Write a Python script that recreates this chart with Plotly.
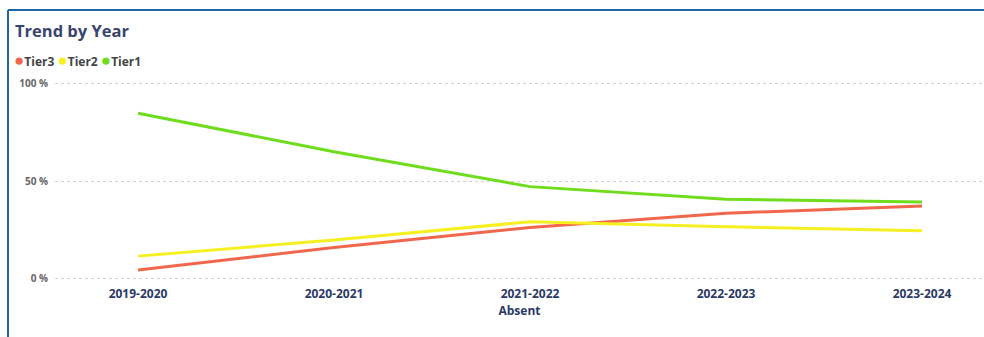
import plotly.graph_objects as go

# School years on the category axis
years = ["2019-2020", "2020-2021", "2021-2022", "2022-2023", "2023-2024"]

# Share of absent students per tier (percent)
tier3 = [4.1, 15.8, 26.1, 33.4, 37.1]
tier2 = [11.3, 19.6, 29.0, 26.4, 24.4]
tier1 = [84.9, 65.1, 47.1, 40.6, 39.2]

series_names = ["Tier3", "Tier2", "Tier1"]
series_colors = ["#F0674B", "#F7F020", "#6FDD1E"]
series_values = [tier3, tier2, tier1]

y_ticks = [0, 50, 100]
y_tick_text = ["0 %", "50 %", "100 %"]

W, H = 984, 337
M_L, M_R, M_T, M_B = 55, 0, 82, 57
plot_w = W - M_L - M_R
plot_h = H - M_T - M_B

fig = go.Figure()
for name, color, vals in zip(series_names, series_colors, series_values):
    fig.add_trace(go.Scatter(
        x=list(range(len(years))), y=vals, name=name, mode="lines",
        line=dict(color=color, width=3), showlegend=False,
    ))

# pixel -> paper helpers
def px_x(px):
    return (px - M_L) / plot_w

def px_y(py):
    return (H - M_B - py) / plot_h

# outer frame (left and top edges)
frame_color = "#1F66A8"
fig.add_shape(type="line", xref="paper", yref="paper",
              x0=px_x(8), x1=px_x(8), y0=px_y(10), y1=px_y(345),
              line=dict(color=frame_color, width=2))
fig.add_shape(type="line", xref="paper", yref="paper",
              x0=px_x(8), x1=px_x(995), y0=px_y(10), y1=px_y(10),
              line=dict(color=frame_color, width=2))

# title
fig.add_annotation(text="<b>Trend by Year</b>", xref="paper", yref="paper",
                   x=px_x(13), y=px_y(30), xanchor="left", yanchor="middle",
                   showarrow=False,
                   font=dict(family="Open Sans", size=16.5, color="#38456E"))

# legend with round markers
legend_html = "&nbsp;".join(
    f"<span style='color:{c};font-size:17px'>●</span><span style='color:#444'>{n}</span>"
    for n, c in zip(series_names, series_colors)
)
fig.add_annotation(text=legend_html, xref="paper", yref="paper",
                   x=px_x(12), y=px_y(60), xanchor="left", yanchor="middle",
                   showarrow=False,
                   font=dict(family="Open Sans", size=12, color="#444", weight="bold"))

fig.update_layout(
    width=W, height=H,
    margin=dict(l=M_L, r=M_R, t=M_T, b=M_B, pad=0),
    paper_bgcolor="white", plot_bgcolor="white",
    showlegend=False,
    font=dict(family="Open Sans"),
)
fig.update_xaxes(
    tickmode="array", tickvals=list(range(len(years))), ticktext=years,
    range=[-(138 - M_L) / 196, 4 + (W - M_R - 922) / 196],
    showgrid=False, zeroline=False, showline=False, ticks="",
    tickfont=dict(family="Open Sans", size=12, color="#2B3966", weight="bold"),
    ticklabelstandoff=5,
    title=dict(text="Absent", standoff=2,
               font=dict(family="Open Sans", size=12, color="#2B3966", weight="bold")),
)
fig.update_yaxes(
    range=[-1, 101], tickmode="array", tickvals=y_ticks, ticktext=y_tick_text,
    showgrid=True, gridcolor="#D2D2D2", griddash="dot", gridwidth=1,
    zeroline=False, showline=False, ticks="",
    tickfont=dict(family="Open Sans", size=10, color="#666666", weight="bold"),
    ticklabelstandoff=6,
)

fig.write_html("out.html")
